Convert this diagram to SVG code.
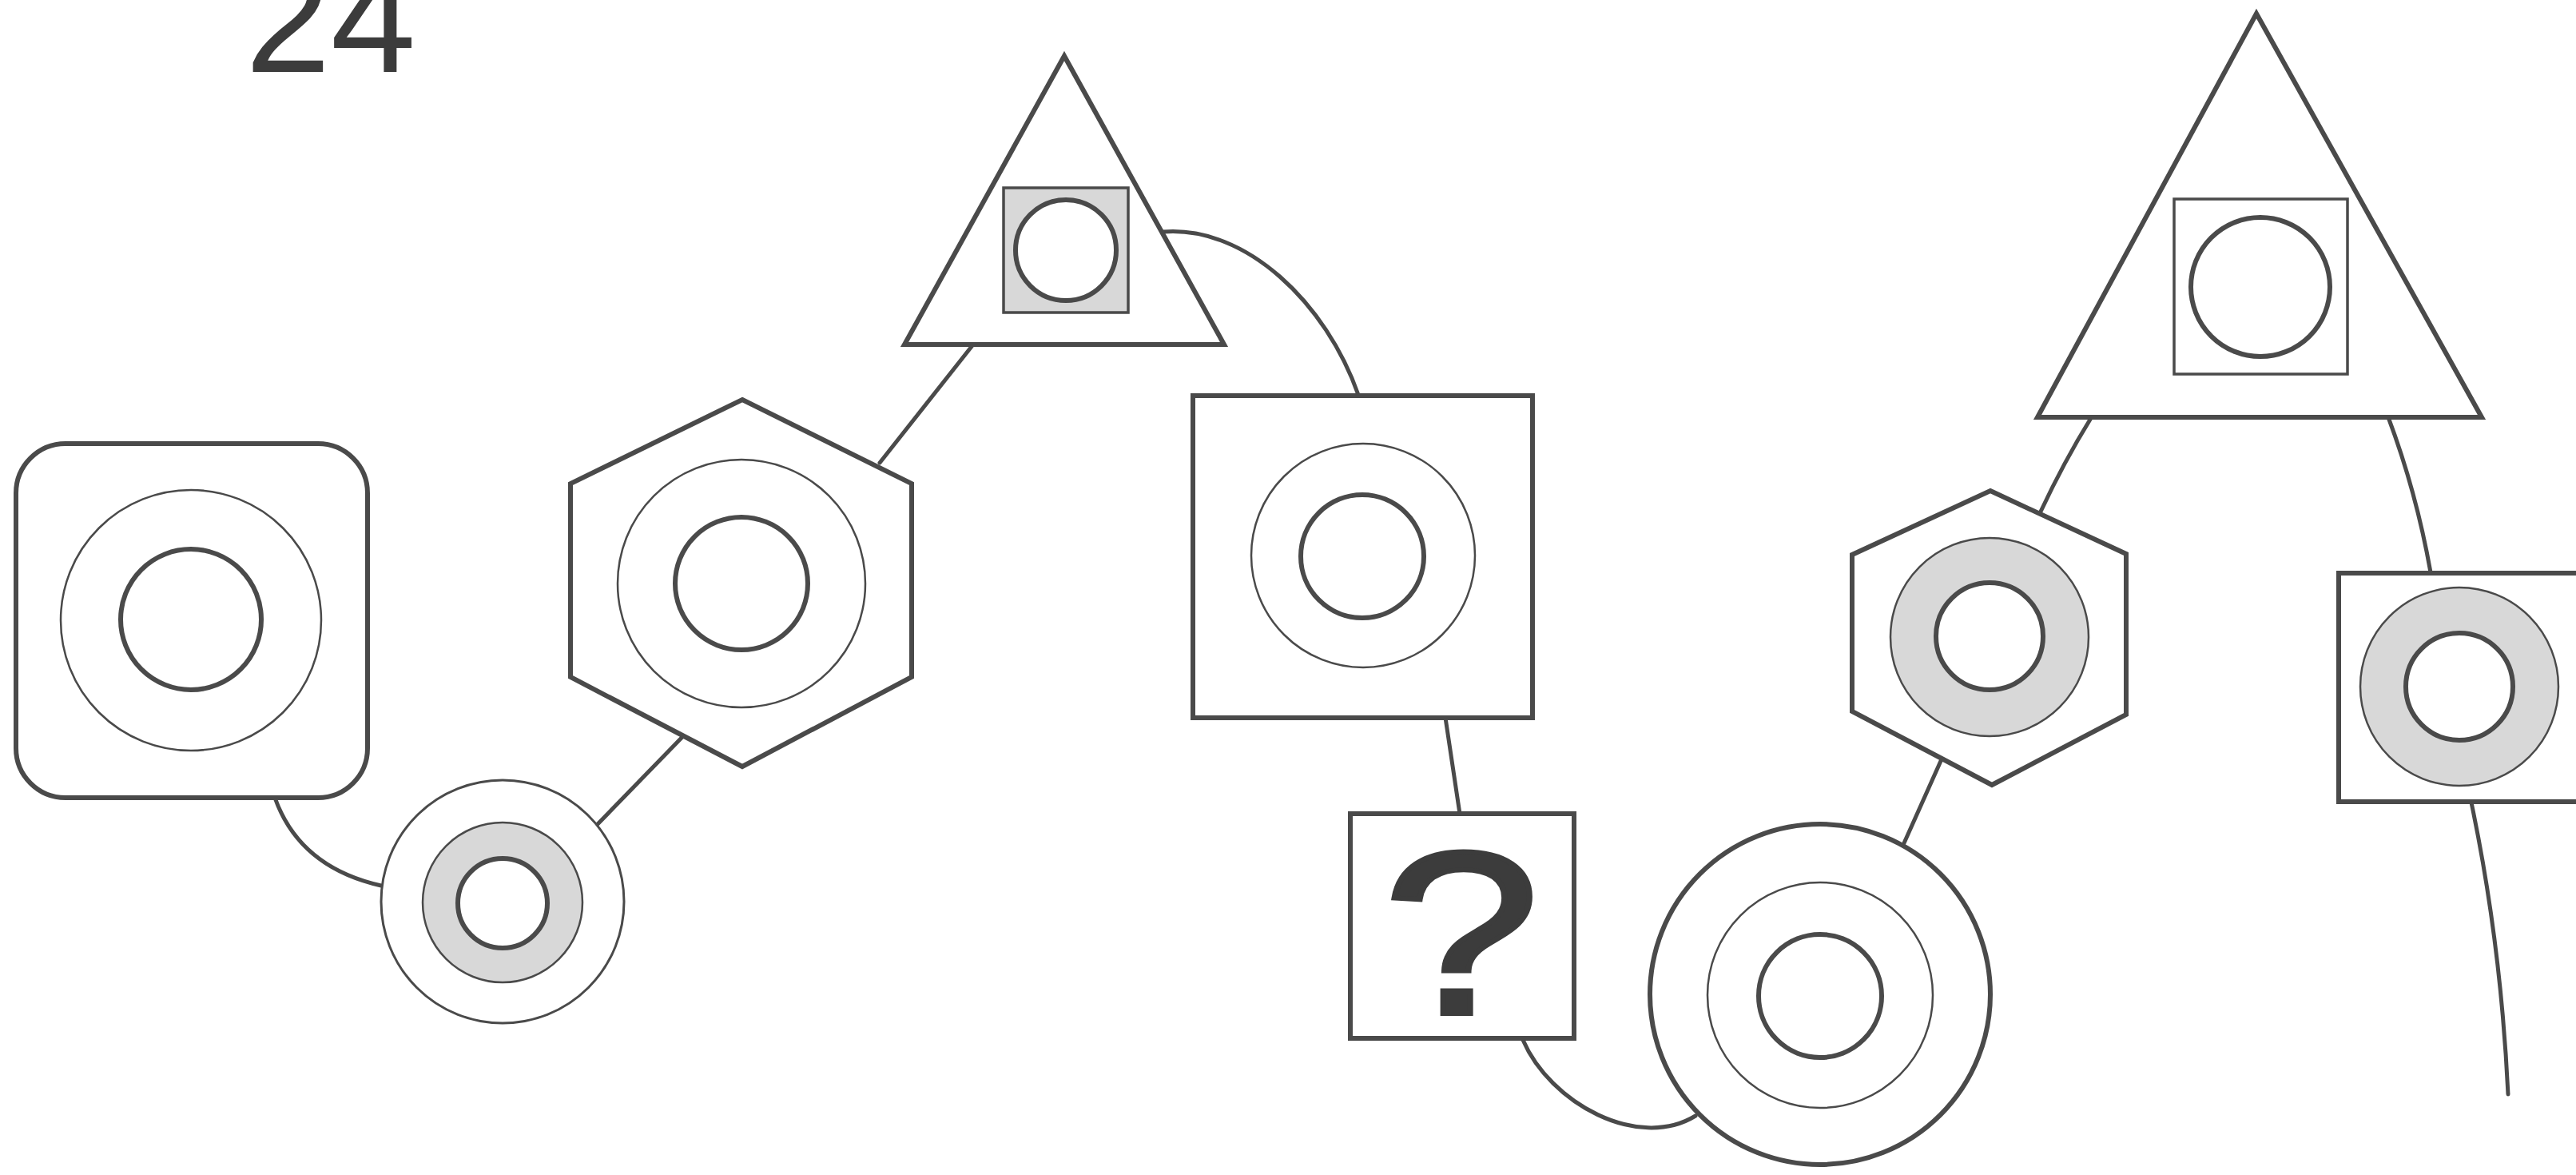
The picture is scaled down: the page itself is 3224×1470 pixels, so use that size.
<svg xmlns="http://www.w3.org/2000/svg" width="3224" height="1470" viewBox="0 0 3224 1470">
<style>
.sh{fill:#fff;stroke:#4a4a4a;stroke-width:6;stroke-linejoin:miter}
.thin{fill:#fff;stroke:#4a4a4a;stroke-width:2.5}
.thick{fill:#fff;stroke:#4a4a4a;stroke-width:6}
.ring{fill:#d8d8d8;stroke:#4a4a4a;stroke-width:2.5}
.sq{stroke:#4a4a4a;stroke-width:3.5}
.con{fill:none;stroke:#4a4a4a;stroke-width:5;stroke-linecap:round}
.lbl{font-family:"Liberation Sans",Arial,sans-serif;fill:#3c3c3c}
</style>
<rect width="3224" height="1470" fill="#fff"/>
<text class="lbl" x="307" y="90" font-size="192">24</text>
<g id="connectors">
<path class="con" d="M344,998 Q375,1085 477,1108"/>
<path class="con" d="M748,1031 L854,922"/>
<path class="con" d="M1101,579 L1218,431"/>
<path class="con" d="M1456,290 C1560,282 1660,380 1700,494"/>
<path class="con" d="M1809,898 L1827,1018"/>
<path class="con" d="M1906,1301 C1940,1380 2050,1440 2122,1396"/>
<path class="con" d="M2382,1057 L2429,952"/>
<path class="con" d="M2554,640 Q2583,578 2617,523"/>
<path class="con" d="M2989,522 Q3024,615 3042,716"/>
<path class="con" d="M3093,1004 Q3130,1180 3139,1369"/>
</g>
<g id="node-rounded-square">
<rect class="sh" x="20" y="555" width="440" height="443" rx="62" ry="62"/>
<circle class="thin" cx="239" cy="776" r="163"/>
<circle class="thick" cx="239" cy="775" r="88"/>
</g>
<g id="node-small-circle">
<circle class="thin" cx="629" cy="1128" r="152" style="stroke-width:3"/>
<circle class="ring" cx="629" cy="1129" r="100"/>
<circle class="thick" cx="629" cy="1130" r="56"/>
</g>
<g id="node-hexagon-1">
<polygon class="sh" points="929,500 1141,605 1141,847 929,959 714,847 714,605"/>
<circle class="thin" cx="928" cy="730" r="155"/>
<circle class="thick" cx="928" cy="730" r="83"/>
</g>
<g id="node-triangle-1">
<polygon class="sh" points="1332,70 1532,431 1132,431"/>
<rect class="sq" x="1256" y="235" width="156" height="156" fill="#d8d8d8"/>
<circle class="thick" cx="1334" cy="313" r="63"/>
</g>
<g id="node-big-square">
<rect class="sh" x="1493" y="495" width="425" height="403"/>
<circle class="thin" cx="1706" cy="695" r="140"/>
<circle class="thick" cx="1705" cy="696" r="77"/>
</g>
<g id="node-question">
<rect class="sh" x="1690" y="1018" width="280" height="281"/>
<text class="lbl" transform="translate(1829,1268) scale(1.22,1)" x="0" y="0" font-size="290" text-anchor="middle" stroke="#3c3c3c" stroke-width="6">?</text>
</g>
<g id="node-big-circle">
<circle class="sh" cx="2278" cy="1244" r="213"/>
<circle class="thin" cx="2278" cy="1245" r="141"/>
<circle class="thick" cx="2278" cy="1246" r="77"/>
</g>
<g id="node-hexagon-2">
<polygon class="sh" points="2491,614 2661,693 2661,894 2493,982 2318,890 2318,694"/>
<circle class="ring" cx="2490" cy="797" r="124"/>
<circle class="thick" cx="2490" cy="796" r="67"/>
</g>
<g id="node-triangle-2">
<polygon class="sh" points="2824,17 3106,522 2550,522"/>
<rect class="sq" x="2721" y="249" width="217" height="219" fill="#fff"/>
<circle class="thick" cx="2829" cy="359" r="87"/>
</g>
<g id="node-right-square">
<rect class="sh" x="2927" y="717" width="320" height="286"/>
<circle class="ring" cx="3078" cy="859" r="124"/>
<circle class="thick" cx="3078" cy="859" r="67"/>
</g>
</svg>
